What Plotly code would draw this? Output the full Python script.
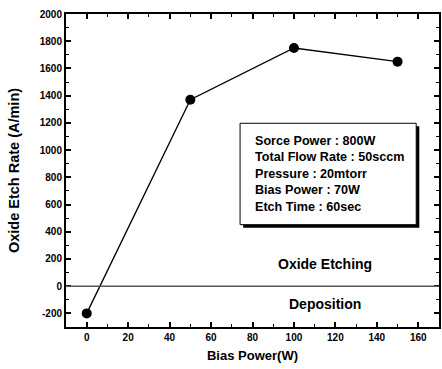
import plotly.graph_objects as go

bias_power = [0, 50, 100, 150]
etch_rate = [-200, 1370, 1750, 1650]
x_ticks = [0, 20, 40, 60, 80, 100, 120, 140, 160]
y_ticks = [-200, 0, 200, 400, 600, 800, 1000, 1200, 1400, 1600, 1800, 2000]
box_lines = ["Sorce Power : 800W", "Total Flow Rate : 50sccm", "Pressure : 20mtorr",
             "Bias Power : 70W", "Etch Time : 60sec"]

FONT = "Liberation Sans, Arial, sans-serif"

fig = go.Figure()
fig.add_trace(go.Scatter(
    x=bias_power, y=etch_rate, mode="lines+markers",
    line=dict(color="black", width=1.3),
    marker=dict(color="black", size=10),
    showlegend=False))

fig.add_shape(type="line", xref="paper", yref="y", x0=0, x1=1, y0=0, y1=0,
              line=dict(color="#555555", width=1.5))

# text box with shadow
fig.add_shape(type="rect", xref="x", yref="y", x0=75.5, x1=160.5, y0=430, y1=1175,
              fillcolor="black", line=dict(width=0))
fig.add_shape(type="rect", xref="x", yref="y", x0=74, x1=159, y0=452, y1=1197,
              fillcolor="white", line=dict(color="black", width=1))

fig.add_annotation(x=80.2, y=827, xref="x", yref="y", xanchor="left", yanchor="middle",
                   align="left", showarrow=False,
                   text="<br>".join("<b>" + s + "</b>" for s in box_lines),
                   font=dict(family=FONT, size=12.6, color="black"))

fig.add_annotation(x=115, y=160, xref="x", yref="y", showarrow=False, text="<b>Oxide Etching</b>",
                   font=dict(family=FONT, size=14, color="black"))
fig.add_annotation(x=115, y=-130, xref="x", yref="y", showarrow=False, text="<b>Deposition</b>",
                   font=dict(family=FONT, size=14, color="black"))

axis_common = dict(showline=True, linecolor="black", linewidth=2, mirror="ticks",
                   ticks="inside", ticklen=5, tickwidth=1.5, tickcolor="black",
                   showgrid=False, zeroline=False,
                   tickfont=dict(family=FONT, size=10, color="black"))

fig.update_xaxes(range=[-10, 170], tickvals=x_ticks,
                 ticktext=["<b>%d</b>" % v for v in x_ticks],
                 minor=dict(dtick=10, ticks="inside", ticklen=3, tickcolor="black", tickwidth=1),
                 title=dict(text="<b>Bias Power(W)</b>", standoff=9,
                            font=dict(family=FONT, size=13, color="black")),
                 **axis_common)
fig.update_yaxes(range=[-300, 2000], tickvals=y_ticks,
                 ticktext=["<b>%d</b>" % v for v in y_ticks],
                 minor=dict(dtick=100, ticks="inside", ticklen=3, tickcolor="black", tickwidth=1),
                 title=dict(text="<b>Oxide Etch Rate (A/min)</b>", standoff=17,
                            font=dict(family=FONT, size=14.5, color="black")),
                 **axis_common)

fig.update_layout(width=442, height=369, margin=dict(l=66, r=1, t=14, b=42),
                  plot_bgcolor="white", paper_bgcolor="white")
fig.write_html("out.html")
